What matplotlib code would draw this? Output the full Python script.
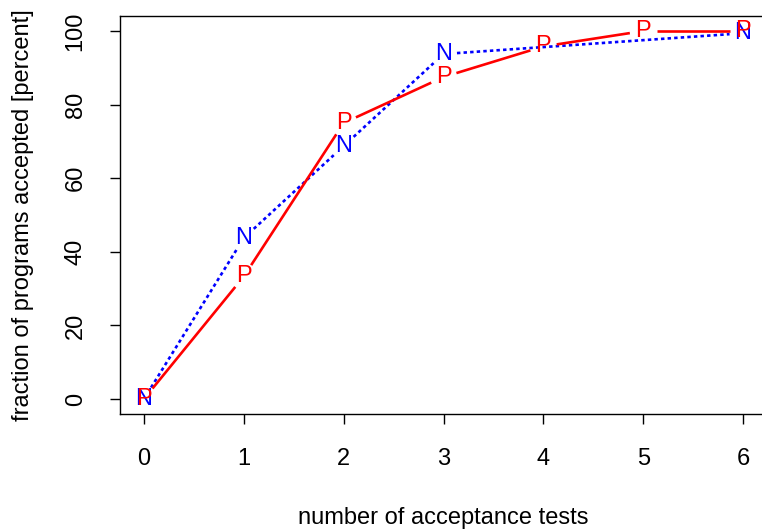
import numpy as np
import matplotlib
matplotlib.use("Agg")
import matplotlib.pyplot as plt

plt.rcParams["font.family"] = ["Liberation Sans", "DejaVu Sans"]

# values
tests_p = [0, 1, 2, 3, 4, 5, 6]
frac_p = [0.0, 33.3, 75.0, 87.5, 95.8, 100.0, 100.0]
tests_n = [0, 1, 2, 3, 6]
frac_n = [0.0, 43.75, 68.75, 93.75, 99.4]
xticks = [0, 1, 2, 3, 4, 5, 6]
yticks = [0, 20, 40, 60, 80, 100]

W, H, DPI = 762, 532, 100
fig = plt.figure(figsize=(W / DPI, H / DPI), dpi=DPI)
# R-style plot region (right edge runs slightly off the canvas, as in the reference)
ax = fig.add_axes([120 / W, 1 - 413.7 / H, 647 / W, (413.7 - 16.3) / H])
ax.set_xlim(-0.24, 6.24)
ax.set_ylim(-4, 104)
FS = 17


def type_b(ax, xs, ys, letter, color, ls, gap=13.5):
    # R's type="b": letters at the points, line segments that stop short of them
    pts = ax.transData.transform(np.column_stack([xs, ys]))
    inv = ax.transData.inverted()
    for a, b in zip(pts[:-1], pts[1:]):
        d = b - a
        L = np.hypot(*d)
        if L <= 2 * gap:
            continue
        u = d / L
        seg = inv.transform(np.array([a + u * gap, b - u * gap]))
        ax.plot(seg[:, 0], seg[:, 1], color=color, lw=1.9, ls=ls,
                solid_capstyle="butt", dash_capstyle="butt")
    for x, y in zip(xs, ys):
        ax.text(x, y, letter, color=color, fontsize=FS, ha="center", va="center")


type_b(ax, tests_n, frac_n, "N", "blue", (0, (1.3, 1.2)))
type_b(ax, tests_p, frac_p, "P", "red", "-")

ax.set_xticks(xticks)
ax.set_yticks(yticks)
ax.set_yticklabels([str(v) for v in yticks], rotation=90, va="center")
ax.tick_params(direction="out", length=7, width=1, labelsize=FS)
ax.tick_params(axis="x", pad=18)
ax.tick_params(axis="y", pad=17)
for s in ax.spines.values():
    s.set_linewidth(1)
ax.set_xlabel("number of acceptance tests", fontsize=FS, labelpad=26)
ax.set_ylabel("fraction of programs accepted [percent]", fontsize=FS, labelpad=22)

fig.savefig("out.png", dpi=DPI)
